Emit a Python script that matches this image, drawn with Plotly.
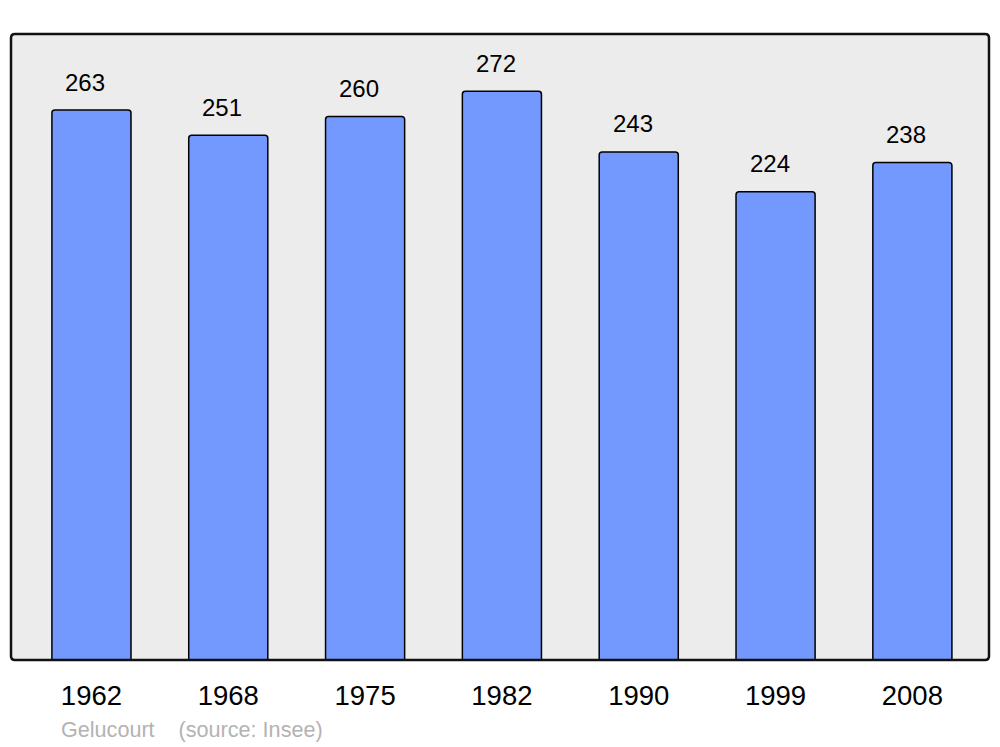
import plotly.graph_objects as go

years = ["1962", "1968", "1975", "1982", "1990", "1999", "2008"]
population = [263, 251, 260, 272, 243, 224, 238]
commune = "Gelucourt"
source = "(source: Insee)"

positions = list(range(len(years)))

fig = go.Figure()
fig.add_trace(go.Bar(
    x=positions, y=population, width=0.578,
    marker=dict(color="#7399ff", line=dict(color="#000000", width=1.5), cornerradius=3),
    hoverinfo="skip",
))

for p, v in zip(positions, population):
    fig.add_annotation(x=p, y=v, text=str(v), showarrow=False, xshift=-6, yshift=28,
                       yanchor="middle", font=dict(family="Liberation Sans, Arial", size=24, color="#000"))

fig.add_annotation(xref="paper", yref="paper", x=0.049, y=-0.111, xanchor="left", yanchor="middle",
                   text=commune + "\u00a0" * 4 + source, showarrow=False,
                   font=dict(family="Liberation Sans, Arial", size=21.6, color="#b3b3b3"))

W, H, r = 978, 626, 4
frame = (f"M {r},0 L {W-r},0 Q {W},0 {W},{r} L {W},{H-r} Q {W},{H} {W-r},{H} "
         f"L {r},{H} Q 0,{H} 0,{H-r} L 0,{r} Q 0,0 {r},0 Z")
fig.add_shape(type="path", xref="paper", yref="paper", xsizemode="pixel", ysizemode="pixel",
              xanchor=0, yanchor=0, path=frame,
              line=dict(color="#111", width=2.5), layer="above")

fig.update_layout(
    width=1000, height=747,
    margin=dict(l=11, r=11, t=34, b=87),
    paper_bgcolor="#ffffff", plot_bgcolor="#ececec",
    showlegend=False,
    xaxis=dict(range=[-0.588, 6.56], tickvals=positions, ticktext=years, showgrid=False,
               zeroline=False, ticks="", ticklabelstandoff=16,
               tickfont=dict(family="Liberation Sans, Arial", size=27.5, color="#000")),
    yaxis=dict(range=[0, 299.4], showgrid=False, zeroline=False, showticklabels=False, ticks=""),
)

fig.write_html("out.html", config={"displayModeBar": False},
               post_script="document.body.style.margin='0';document.body.style.overflow='hidden';")
